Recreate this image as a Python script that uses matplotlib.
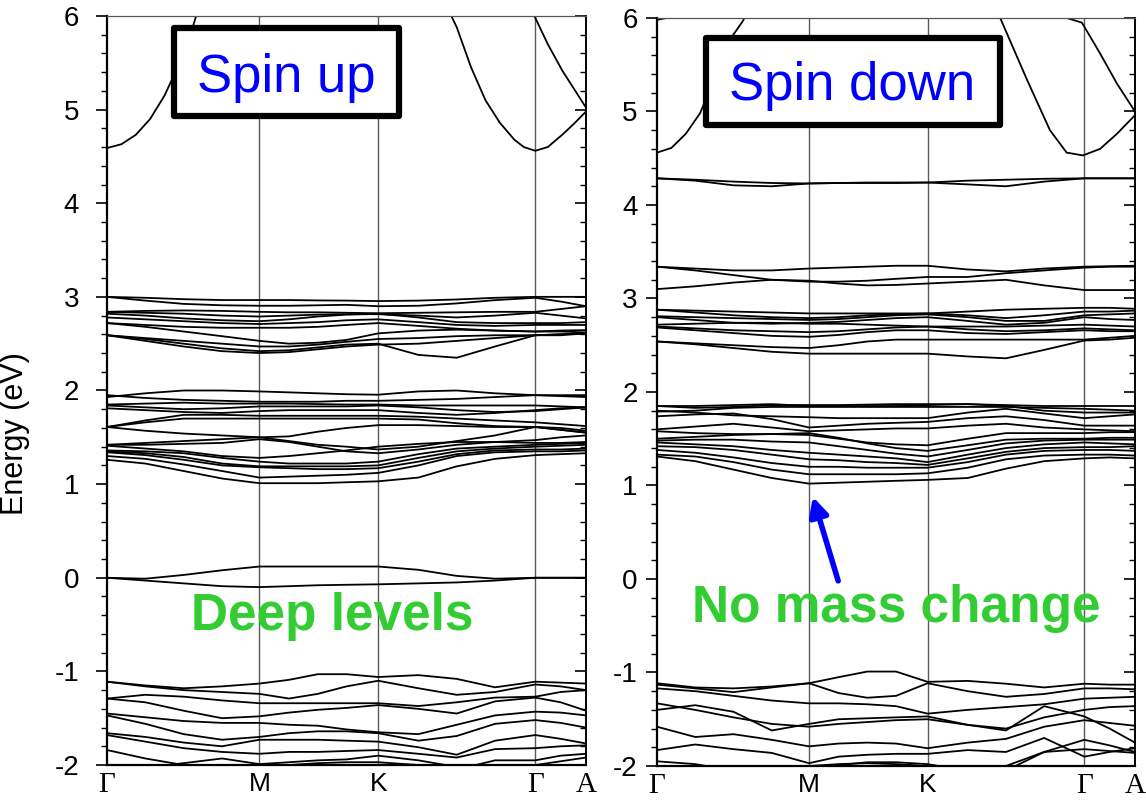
import matplotlib
matplotlib.use('Agg')
import matplotlib.pyplot as plt
from matplotlib.ticker import MultipleLocator
from matplotlib.patches import Rectangle

plt.rcParams['font.family'] = ['Liberation Sans', 'DejaVu Sans']
plt.rcParams['axes.unicode_minus'] = False

# high symmetry points along the path (fraction of path length)
sym_pos = [0.0, 0.318, 0.566, 0.894, 1.0]
sym_labels = ['Γ', 'M', 'K', 'Γ', 'A']

kpts = [0.0, 0.08, 0.16, 0.24, 0.318, 0.38, 0.44, 0.50, 0.566, 0.65, 0.73, 0.81, 0.894, 0.947, 1.0]

# ---------------- spin up ----------------
up_cb_k1 = [0.0, 0.03, 0.06, 0.09, 0.12, 0.15, 0.18, 0.21]
up_cb_e1 = [4.59, 4.63, 4.73, 4.90, 5.15, 5.48, 5.90, 6.40]
up_cb_k2 = [0.70, 0.73, 0.76, 0.79, 0.82, 0.85, 0.87, 0.894, 0.92, 0.95, 0.975, 1.0]
up_cb_e2 = [6.20, 5.88, 5.45, 5.10, 4.86, 4.68, 4.60, 4.56, 4.60, 4.73, 4.85, 4.98]
up_cb_k3 = [0.87, 0.894, 0.92, 0.95, 0.975, 1.0]
up_cb_e3 = [6.20, 5.98, 5.70, 5.42, 5.22, 5.02]

up_upper = [
    [3.00, 2.99, 2.975, 2.966, 2.966, 2.966, 2.962, 2.96, 2.955, 2.96, 2.972, 2.99, 3.00, 3.00, 3.00],
    [3.00, 2.96, 2.925, 2.91, 2.905, 2.905, 2.91, 2.915, 2.90, 2.905, 2.93, 2.965, 2.99, 2.95, 2.90],
    [2.84, 2.85, 2.855, 2.85, 2.84, 2.835, 2.835, 2.83, 2.825, 2.83, 2.835, 2.84, 2.84, 2.87, 2.90],
    [2.84, 2.83, 2.82, 2.80, 2.79, 2.80, 2.81, 2.815, 2.815, 2.80, 2.78, 2.80, 2.83, 2.80, 2.77],
    [2.82, 2.80, 2.77, 2.75, 2.74, 2.76, 2.79, 2.81, 2.82, 2.78, 2.73, 2.72, 2.72, 2.72, 2.73],
    [2.78, 2.76, 2.74, 2.72, 2.71, 2.72, 2.73, 2.75, 2.76, 2.73, 2.70, 2.69, 2.70, 2.70, 2.70],
    [2.72, 2.70, 2.68, 2.67, 2.67, 2.67, 2.68, 2.70, 2.72, 2.69, 2.66, 2.64, 2.63, 2.64, 2.645],
    [2.72, 2.68, 2.63, 2.58, 2.53, 2.50, 2.51, 2.54, 2.61, 2.64, 2.65, 2.64, 2.63, 2.63, 2.62],
    [2.59, 2.56, 2.53, 2.50, 2.47, 2.47, 2.49, 2.52, 2.55, 2.56, 2.58, 2.59, 2.59, 2.60, 2.61],
    [2.59, 2.55, 2.50, 2.45, 2.42, 2.43, 2.46, 2.49, 2.50, 2.38, 2.35, 2.47, 2.59, 2.59, 2.61],
    [2.59, 2.53, 2.47, 2.42, 2.40, 2.41, 2.44, 2.47, 2.49, 2.50, 2.53, 2.56, 2.59, 2.60, 2.61],
]

up_middle = [
    [1.93, 1.97, 2.00, 2.00, 1.99, 1.98, 1.97, 1.96, 1.955, 1.99, 2.00, 1.97, 1.95, 1.95, 1.95],
    [1.95, 1.92, 1.90, 1.89, 1.88, 1.88, 1.88, 1.89, 1.89, 1.90, 1.91, 1.93, 1.95, 1.94, 1.93],
    [1.85, 1.86, 1.87, 1.86, 1.86, 1.86, 1.855, 1.85, 1.85, 1.84, 1.84, 1.84, 1.84, 1.83, 1.82],
    [1.84, 1.82, 1.80, 1.81, 1.83, 1.83, 1.83, 1.83, 1.84, 1.82, 1.79, 1.77, 1.78, 1.80, 1.82],
    [1.81, 1.79, 1.77, 1.76, 1.78, 1.79, 1.79, 1.79, 1.79, 1.76, 1.74, 1.76, 1.79, 1.81, 1.82],
    [1.61, 1.68, 1.74, 1.74, 1.73, 1.73, 1.73, 1.73, 1.73, 1.72, 1.70, 1.68, 1.66, 1.64, 1.62],
    [1.61, 1.66, 1.70, 1.70, 1.70, 1.70, 1.70, 1.70, 1.70, 1.69, 1.65, 1.62, 1.61, 1.58, 1.55],
    [1.61, 1.57, 1.54, 1.52, 1.50, 1.51, 1.56, 1.60, 1.63, 1.63, 1.62, 1.61, 1.61, 1.58, 1.55],
    [1.42, 1.44, 1.46, 1.48, 1.50, 1.46, 1.42, 1.40, 1.37, 1.40, 1.46, 1.52, 1.61, 1.60, 1.57],
    [1.42, 1.42, 1.43, 1.44, 1.48, 1.45, 1.40, 1.35, 1.33, 1.37, 1.42, 1.45, 1.47, 1.50, 1.52],
    [1.41, 1.38, 1.35, 1.30, 1.28, 1.30, 1.33, 1.36, 1.40, 1.43, 1.45, 1.45, 1.44, 1.44, 1.45],
    [1.36, 1.35, 1.33, 1.28, 1.24, 1.22, 1.22, 1.22, 1.24, 1.32, 1.38, 1.40, 1.42, 1.43, 1.44],
    [1.35, 1.33, 1.29, 1.22, 1.19, 1.19, 1.19, 1.19, 1.20, 1.28, 1.35, 1.38, 1.40, 1.41, 1.42],
    [1.34, 1.31, 1.26, 1.20, 1.18, 1.17, 1.16, 1.16, 1.17, 1.24, 1.32, 1.36, 1.37, 1.37, 1.38],
    [1.30, 1.27, 1.21, 1.14, 1.07, 1.08, 1.09, 1.10, 1.12, 1.20, 1.30, 1.34, 1.35, 1.35, 1.36],
    [1.26, 1.22, 1.14, 1.06, 1.01, 1.01, 1.01, 1.02, 1.03, 1.07, 1.19, 1.27, 1.31, 1.32, 1.33],
]

up_deep = [
    [0.00, -0.01, 0.03, 0.08, 0.12, 0.12, 0.12, 0.12, 0.12, 0.085, 0.02, -0.01, 0.00, 0.00, 0.00],
    [0.00, -0.03, -0.06, -0.09, -0.10, -0.09, -0.08, -0.075, -0.07, -0.06, -0.05, -0.03, 0.00, 0.00, 0.00],
]

up_valence = [
    [-1.11, -1.15, -1.18, -1.16, -1.13, -1.09, -1.03, -1.03, -1.06, -1.04, -1.08, -1.17, -1.11, -1.12, -1.13],
    [-1.11, -1.16, -1.20, -1.22, -1.24, -1.29, -1.24, -1.16, -1.10, -1.18, -1.25, -1.22, -1.14, -1.16, -1.20],
    [-1.29, -1.25, -1.27, -1.31, -1.34, -1.34, -1.34, -1.34, -1.34, -1.37, -1.33, -1.28, -1.27, -1.22, -1.20],
    [-1.29, -1.33, -1.42, -1.50, -1.48, -1.44, -1.41, -1.39, -1.36, -1.40, -1.45, -1.32, -1.28, -1.33, -1.42],
    [-1.45, -1.49, -1.53, -1.55, -1.55, -1.57, -1.58, -1.62, -1.65, -1.67, -1.57, -1.47, -1.43, -1.44, -1.47],
    [-1.47, -1.56, -1.67, -1.73, -1.70, -1.66, -1.64, -1.64, -1.66, -1.74, -1.69, -1.56, -1.52, -1.55, -1.60],
    [-1.66, -1.70, -1.76, -1.80, -1.73, -1.73, -1.73, -1.74, -1.75, -1.81, -1.89, -1.74, -1.68, -1.72, -1.77],
    [-1.68, -1.75, -1.82, -1.86, -1.88, -1.86, -1.86, -1.85, -1.84, -1.88, -1.92, -1.83, -1.82, -1.80, -1.79],
    [-1.84, -1.93, -2.00, -2.05, -2.05, -2.00, -1.98, -1.97, -1.97, -2.00, -2.05, -1.95, -1.95, -1.90, -1.88],
    [-2.05, -2.03, -1.98, -1.93, -1.99, -1.97, -1.95, -1.94, -1.90, -1.95, -2.02, -2.05, -2.00, -1.96, -1.92],
]

# ---------------- spin down ----------------
dn_cb_k0 = [0.0, 0.02, 0.05]
dn_cb_e0 = [5.98, 6.00, 6.15]
dn_cb_k1 = [0.0, 0.03, 0.06, 0.09, 0.12, 0.15, 0.18, 0.21]
dn_cb_e1 = [4.56, 4.61, 4.76, 4.98, 5.35, 5.75, 5.97, 6.30]
dn_cb_k2 = [0.70, 0.718, 0.774, 0.822, 0.857, 0.891, 0.927, 0.962, 1.0]
dn_cb_e2 = [6.20, 6.00, 5.34, 4.80, 4.56, 4.53, 4.60, 4.76, 4.96]
dn_cb_k3 = [0.82, 0.857, 0.889, 0.927, 0.962, 1.0]
dn_cb_e3 = [6.02, 6.00, 5.95, 5.62, 5.30, 5.00]

dn_flat = [
    [4.285, 4.26, 4.21, 4.20, 4.23, 4.235, 4.235, 4.235, 4.24, 4.22, 4.20, 4.25, 4.285, 4.285, 4.285],
    [4.285, 4.27, 4.25, 4.235, 4.23, 4.235, 4.24, 4.24, 4.24, 4.26, 4.27, 4.28, 4.285, 4.285, 4.285],
]

dn_high = [
    [3.34, 3.32, 3.30, 3.30, 3.32, 3.33, 3.34, 3.35, 3.35, 3.31, 3.29, 3.32, 3.34, 3.345, 3.35],
    [3.34, 3.30, 3.25, 3.20, 3.18, 3.18, 3.19, 3.21, 3.23, 3.23, 3.27, 3.30, 3.33, 3.34, 3.34],
    [3.10, 3.13, 3.17, 3.20, 3.19, 3.16, 3.14, 3.145, 3.16, 3.18, 3.20, 3.14, 3.09, 3.09, 3.09],
]

dn_upper = [
    [2.88, 2.87, 2.86, 2.85, 2.84, 2.84, 2.84, 2.84, 2.84, 2.86, 2.88, 2.89, 2.90, 2.90, 2.89],
    [2.88, 2.85, 2.82, 2.80, 2.79, 2.80, 2.82, 2.83, 2.84, 2.82, 2.79, 2.82, 2.86, 2.86, 2.87],
    [2.81, 2.80, 2.79, 2.78, 2.77, 2.78, 2.80, 2.82, 2.83, 2.80, 2.76, 2.76, 2.82, 2.83, 2.84],
    [2.80, 2.77, 2.74, 2.73, 2.74, 2.75, 2.77, 2.79, 2.80, 2.76, 2.72, 2.74, 2.80, 2.78, 2.77],
    [2.72, 2.73, 2.74, 2.74, 2.73, 2.73, 2.72, 2.71, 2.70, 2.70, 2.70, 2.71, 2.72, 2.71, 2.70],
    [2.70, 2.68, 2.66, 2.65, 2.64, 2.65, 2.67, 2.69, 2.70, 2.67, 2.65, 2.66, 2.68, 2.67, 2.66],
    [2.69, 2.66, 2.63, 2.60, 2.59, 2.61, 2.64, 2.66, 2.66, 2.63, 2.62, 2.64, 2.66, 2.65, 2.65],
    [2.54, 2.52, 2.50, 2.48, 2.47, 2.50, 2.54, 2.56, 2.56, 2.56, 2.56, 2.56, 2.56, 2.58, 2.60],
    [2.54, 2.51, 2.47, 2.43, 2.41, 2.41, 2.41, 2.41, 2.41, 2.38, 2.36, 2.45, 2.55, 2.56, 2.58],
]

dn_middle = [
    [1.85, 1.83, 1.84, 1.86, 1.86, 1.86, 1.865, 1.87, 1.87, 1.87, 1.86, 1.85, 1.85, 1.85, 1.85],
    [1.85, 1.85, 1.86, 1.87, 1.85, 1.85, 1.85, 1.85, 1.86, 1.87, 1.85, 1.80, 1.78, 1.78, 1.78],
    [1.79, 1.80, 1.83, 1.84, 1.84, 1.84, 1.84, 1.84, 1.84, 1.84, 1.84, 1.83, 1.82, 1.81, 1.80],
    [1.80, 1.78, 1.75, 1.74, 1.73, 1.72, 1.72, 1.72, 1.72, 1.78, 1.82, 1.77, 1.72, 1.74, 1.76],
    [1.74, 1.76, 1.77, 1.71, 1.62, 1.64, 1.66, 1.67, 1.68, 1.72, 1.74, 1.70, 1.64, 1.64, 1.64],
    [1.60, 1.63, 1.66, 1.62, 1.58, 1.59, 1.60, 1.61, 1.61, 1.64, 1.66, 1.62, 1.60, 1.59, 1.58],
    [1.58, 1.56, 1.55, 1.55, 1.54, 1.50, 1.46, 1.44, 1.43, 1.50, 1.56, 1.56, 1.56, 1.57, 1.57],
    [1.50, 1.52, 1.54, 1.55, 1.56, 1.51, 1.45, 1.40, 1.37, 1.43, 1.49, 1.50, 1.50, 1.51, 1.51],
    [1.48, 1.49, 1.49, 1.47, 1.46, 1.42, 1.38, 1.34, 1.31, 1.38, 1.45, 1.48, 1.49, 1.49, 1.49],
    [1.46, 1.44, 1.42, 1.38, 1.35, 1.33, 1.31, 1.29, 1.25, 1.33, 1.40, 1.44, 1.46, 1.45, 1.44],
    [1.42, 1.41, 1.38, 1.33, 1.28, 1.27, 1.25, 1.24, 1.22, 1.29, 1.36, 1.40, 1.41, 1.41, 1.42],
    [1.38, 1.35, 1.30, 1.24, 1.20, 1.20, 1.19, 1.19, 1.19, 1.25, 1.33, 1.37, 1.38, 1.38, 1.37],
    [1.33, 1.31, 1.25, 1.17, 1.12, 1.12, 1.12, 1.12, 1.13, 1.19, 1.28, 1.32, 1.33, 1.33, 1.32],
    [1.31, 1.26, 1.17, 1.08, 1.02, 1.03, 1.04, 1.05, 1.06, 1.08, 1.18, 1.26, 1.29, 1.30, 1.29],
]

dn_valence = [
    [-1.115, -1.16, -1.17, -1.15, -1.115, -1.05, -0.99, -0.99, -1.10, -1.09, -1.12, -1.16, -1.12, -1.13, -1.13],
    [-1.13, -1.17, -1.21, -1.16, -1.115, -1.22, -1.27, -1.25, -1.115, -1.20, -1.26, -1.23, -1.17, -1.17, -1.18],
    [-1.17, -1.20, -1.25, -1.30, -1.33, -1.33, -1.34, -1.36, -1.44, -1.40, -1.37, -1.34, -1.28, -1.27, -1.26],
    [-1.40, -1.35, -1.42, -1.62, -1.55, -1.50, -1.49, -1.48, -1.47, -1.56, -1.62, -1.36, -1.47, -1.60, -1.75],
    [-1.33, -1.40, -1.48, -1.55, -1.58, -1.55, -1.53, -1.51, -1.50, -1.56, -1.60, -1.48, -1.40, -1.37, -1.36],
    [-1.58, -1.69, -1.66, -1.72, -1.79, -1.76, -1.75, -1.76, -1.81, -1.75, -1.71, -1.58, -1.51, -1.54, -1.57],
    [-1.83, -1.77, -1.82, -1.86, -1.97, -1.90, -1.88, -1.87, -1.87, -1.83, -1.85, -1.70, -1.90, -1.85, -1.81],
    [-1.95, -1.98, -2.05, -2.10, -2.05, -1.99, -1.96, -1.96, -1.98, -2.05, -2.00, -1.85, -1.82, -1.84, -1.86],
    [-2.10, -2.10, -2.10, -2.05, -2.00, -1.98, -1.97, -1.98, -2.00, -2.10, -2.05, -1.85, -1.72, -1.78, -1.85],
]

green = '#33cc33'


def drawPanel(ax, band_groups, cb_curves, ypad):
    for group in band_groups:
        for e in group:
            ax.plot(kpts, e, color='black', lw=1.3, solid_joinstyle='round')
    for kk, e in cb_curves:
        ax.plot(kk, e, color='black', lw=1.3)
    for x in sym_pos[1:-1]:
        ax.axvline(x, color='#5a5a5a', lw=1.0, zorder=1)

    ax.set_xlim(0, 1)
    ax.set_ylim(-2, 6)
    ax.set_xticks(sym_pos)
    ax.set_xticklabels(sym_labels)
    ax.tick_params(axis='x', length=0, pad=5)
    for lbl, name in zip(ax.get_xticklabels(), sym_labels):
        if name in ('Γ', 'A'):
            lbl.set_fontfamily('Liberation Serif')
            lbl.set_fontsize(21)
        else:
            lbl.set_fontsize(19)

    ax.yaxis.set_major_locator(MultipleLocator(1))
    ax.yaxis.set_minor_locator(MultipleLocator(0.2))
    ax.tick_params(axis='y', which='major', direction='out', length=8, width=1.2,
                   labelsize=20, pad=ypad)
    ax.tick_params(axis='y', which='minor', direction='out', length=4, width=1.0)

    sec = ax.secondary_yaxis('right')
    sec.yaxis.set_major_locator(MultipleLocator(1))
    sec.yaxis.set_minor_locator(MultipleLocator(0.2))
    sec.tick_params(which='major', direction='in', length=8, width=1.2, labelright=False)
    sec.tick_params(which='minor', direction='in', length=4, width=1.0)
    sec.spines['right'].set_linewidth(1.2)

    ax.spines['left'].set_linewidth(1.6)
    ax.spines['bottom'].set_linewidth(1.6)
    ax.spines['right'].set_linewidth(1.2)
    ax.spines['top'].set_linewidth(0.9)
    ax.spines['top'].set_color('#555555')


def drawLabelBox(ax, x0, y0, w, h, tx, ty, text):
    ax.add_patch(Rectangle((x0, y0), w, h, transform=ax.transAxes, facecolor='white',
                           edgecolor='black', lw=4.5, joinstyle='round', zorder=5))
    ax.text(tx, ty, text, transform=ax.transAxes, ha='center', va='baseline',
            color='blue', fontsize=38, zorder=6)


fig = plt.figure(figsize=(11.46, 8.02), dpi=100)
ax1 = fig.add_axes([0.0934, 0.0461, 0.418, 0.934])
ax2 = fig.add_axes([0.5733, 0.0449, 0.4171, 0.9327])

drawPanel(ax1, [up_upper, up_middle, up_deep, up_valence],
          [(up_cb_k1, up_cb_e1), (up_cb_k2, up_cb_e2), (up_cb_k3, up_cb_e3)], ypad=12)
drawPanel(ax2, [dn_flat, dn_high, dn_upper, dn_middle, dn_valence],
          [(dn_cb_k0, dn_cb_e0), (dn_cb_k1, dn_cb_e1), (dn_cb_k2, dn_cb_e2), (dn_cb_k3, dn_cb_e3)],
          ypad=6)

drawLabelBox(ax1, 0.140, 0.866, 0.470, 0.118, 0.374, 0.8985, 'Spin up')
drawLabelBox(ax2, 0.1025, 0.857, 0.615, 0.116, 0.408, 0.890, 'Spin down')

ax1.text(0.47, -0.56, 'Deep levels', ha='center', va='baseline', color=green,
         fontsize=37, fontweight='bold')
ax2.text(0.50, -0.46, 'No mass change', ha='center', va='baseline', color=green,
         fontsize=37, fontweight='bold')
ax2.annotate('', xy=(0.326, 0.88), xytext=(0.379, -0.02),
             arrowprops=dict(arrowstyle='-|>', color='blue', lw=4, mutation_scale=28,
                             shrinkA=0, shrinkB=0))

fig.text(0.0131, 0.459, 'Energy (eV)', rotation=90, ha='center', va='center', fontsize=22)

fig.savefig('out.png', dpi=100)
